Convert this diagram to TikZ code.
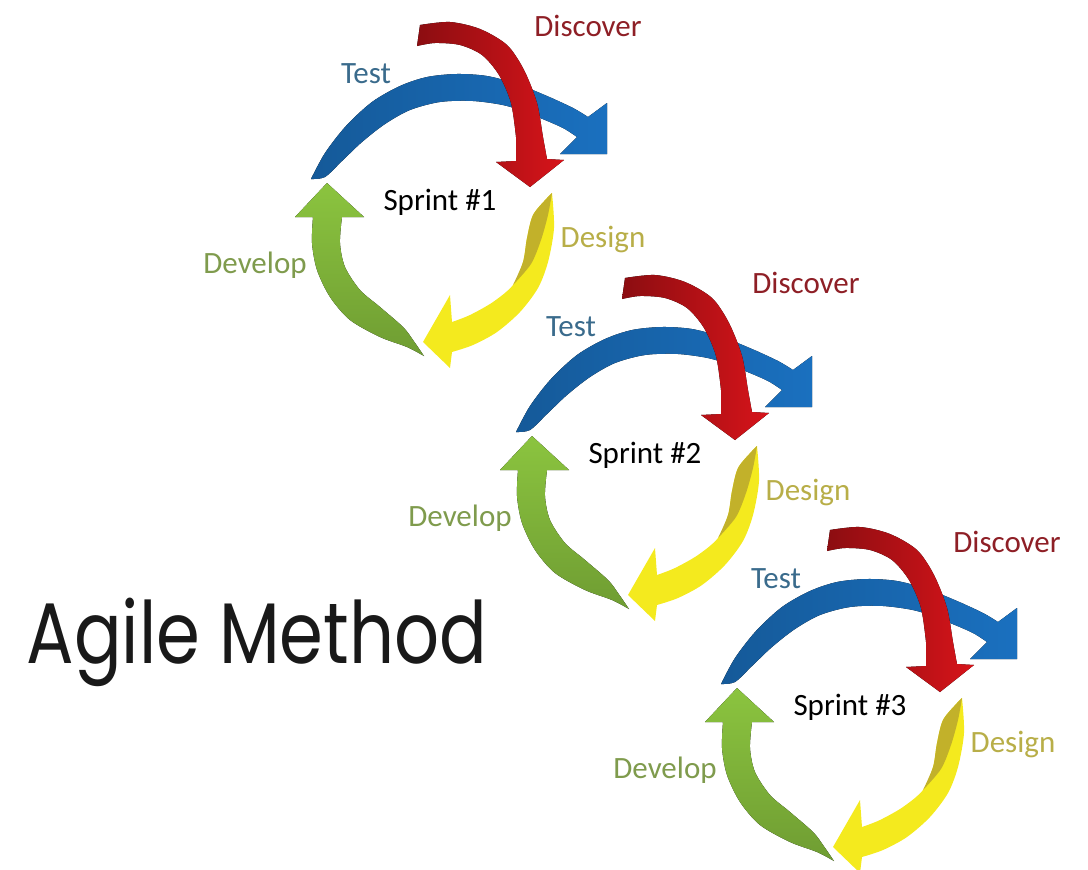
\documentclass[tikz,border=0pt]{standalone}
\usepackage{fontspec}
\setmainfont{Carlito}
\newfontfamily\titlefont{Poppins}
\definecolor{testblue}{HTML}{1A70BF}
\definecolor{testtext}{HTML}{3A6B8C}
\definecolor{discoverred}{HTML}{D7141A}
\definecolor{discovertext}{HTML}{8E1F26}
\definecolor{designyellow}{HTML}{F4EA1E}
\definecolor{designolive}{HTML}{C2B12A}
\definecolor{designtext}{HTML}{B8AE48}
\definecolor{developgreen}{HTML}{8BC43F}
\definecolor{developtext}{HTML}{7F9B4D}

\begin{document}
\begin{tikzpicture}[x=1pt,y=-1pt]
        \tikzstyle{every node}=[inner sep=0pt, anchor=base, font=\fontsize{31}{31}\selectfont]
        \tikzstyle{testarrow}=[left color=testblue!80!black, right color=testblue]
        \tikzstyle{discoverarrow}=[left color=discoverred!65!black, right color=discoverred]
        \tikzstyle{designarrow}=[fill=designyellow]
        \tikzstyle{developarrow}=[top color=developgreen, bottom color=developgreen!80!black]
        \useasboundingbox (0,0) rectangle (1088,870);
        \foreach \i/\dx/\dy/\ex/\ey in {1/0/0/588/36, 2/205/253/601/40, 3/410/505/597/47}{
        \begin{scope}[shift={(\dx,\dy)}]
            \fill[testarrow] plot[smooth] coordinates {(311,179) (325,153) (346,126) (372,102) (400,86) (427,77) (457,74) (487,76) (517,84) (547,96) (573,108) (588,117)} -- (607,103) -- (607,154) -- (560,154) -- (577,137) -- plot[smooth] coordinates {(577,137) (563,128) (540,118) (507,106) (473,101) (440,102) (410,110) (385,124) (362,142) (342,161) (325,177) (311,179)} -- cycle;
            \fill[discoverarrow] plot[smooth] coordinates {(420,25) (450,22) (480,29) (507,45) (524,70) (537,103) (543,137) (547,159)} -- (564,160) -- (530,187) -- (496,162) -- (516,161) -- plot[smooth] coordinates {(516,137) (511,103) (499,75) (482,55) (460,45) (435,43) (417,46)} -- cycle;
            \fill[developarrow] (327,183) -- (364,217) -- (342,217) -- plot[smooth] coordinates {(342,217) (340,243) (345,267) (360,290) (380,307) (403,327) (413,340) (424,356)} -- plot[smooth] coordinates {(424,356) (407,347) (380,337) (350,320) (330,297) (317,270) (312,243) (313,217)} -- (295,217) -- cycle;
            \fill[designarrow] plot[smooth] coordinates {(552,193) (554,228) (548,262) (538,288) (520,312) (497,332) (473,345) (452,352)} -- (450,368) -- (423,342) -- (450,295) -- (452,322) -- plot[smooth] coordinates {(452,322) (470,315) (493,302) (513,285) (523,262) (527,238) (533,215) (547,198) (552,193)} -- cycle;
            \fill[designolive] plot[smooth] coordinates {(552,193) (547,198) (533,215) (527,238) (523,262) (513,285)} -- plot[smooth] coordinates {(513,285) (531,264) (541,240) (548,215) (552,193)} -- cycle;
            \node[text=testtext] (test\i) at (366,83) {Test};
            \node[text=discovertext] (discover\i) at (\ex,\ey) {Discover};
            \node (sprint\i) at (440,210) {Sprint \#\i};
            \node[text=designtext] (design\i) at (603,247) {Design};
            \node[text=developtext] (develop\i) at (255,273) {Develop};
        \end{scope}
        }
        \node[font=\titlefont\fontsize{86}{86}\selectfont, text=black!90] (title) at (257,663) {\scalebox{0.82}[1]{Agile Method}};
    \end{tikzpicture}
\end{document}
